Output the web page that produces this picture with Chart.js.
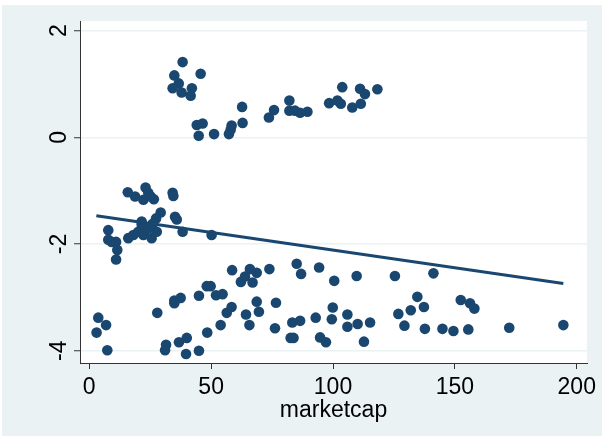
<!DOCTYPE html>
<html>
<head>
<meta charset="utf-8">
<script src="https://cdn.jsdelivr.net/npm/chart.js@4"></script>
<style>
  body { margin: 0; background: #fff; }
  canvas { display: block; }
</style>
</head>
<body>
<canvas id="scatterChart" width="614" height="436"></canvas>
<script>
// values
const marketcap = [
  38.3, 34.9, 45.7, 36.7, 34.2, 37.9, 42.1, 41.6,
  62.7, 62.9, 44.1, 46.5, 44.9, 51.2, 57.3, 58.0, 58.4,
  73.7, 75.8, 82.1, 82.1, 84.4, 86.5, 89.5,
  98.4, 101.8, 103.2, 103.8, 107.9, 111.4, 111.1, 113.1, 118.2,
  15.8, 18.8, 23.1, 24.2, 22.2, 26.5, 25.2, 34.2, 34.5,
  29.3, 27.4, 35.2, 35.9, 21.5, 38.3, 50.2,
  7.8, 7.8, 9.2, 11.0, 11.5, 11.0,
  16.0, 18.1, 20.1, 22.9, 22.2, 25.6, 27.7, 24.2, 21.5, 26.0,
  3.7, 3.0, 6.9, 7.4, 27.9, 31.1, 31.5, 36.8, 40.0, 39.7, 45.0, 48.4, 53.9,
  34.9, 34.9, 37.5, 45.0, 48.2, 49.8, 52.0, 54.7, 56.4, 58.4,
  58.6, 62.2, 63.9, 65.9, 67.0, 68.7, 64.3, 65.7, 68.7, 69.6, 73.9, 76.6, 76.2,
  85.1, 86.9, 94.3, 100.5, 109.7, 125.4, 141.2,
  83.3, 86.5, 82.6, 83.8, 92.9, 94.7, 97.1, 99.9, 99.5, 105.9, 105.9, 110.1, 115.2, 112.7,
  126.8, 129.3, 131.9, 134.6, 137.3, 137.7, 144.9, 149.4, 152.4, 156.2, 158.0, 155.5, 172.3, 194.5
];
const yValues = [
  1.41, 1.16, 1.19, 1.01, 0.92, 0.84, 0.92, 0.78,
  0.57, 0.27, 0.23, 0.26, 0.03, 0.06, 0.06, 0.14, 0.22,
  0.37, 0.51, 0.69, 0.50, 0.50, 0.46, 0.48,
  0.64, 0.69, 0.63, 0.94, 0.56, 0.63, 0.91, 0.81, 0.90,
  -1.03, -1.11, -0.94, -1.04, -1.17, -1.16, -1.11, -1.04, -1.10,
  -1.41, -1.52, -1.49, -1.54, -1.58, -1.77, -1.83,
  -1.74, -1.92, -1.96, -1.96, -2.11, -2.29,
  -1.89, -1.83, -1.77, -1.74, -1.83, -1.89, -1.77, -1.71, -1.64, -1.62,
  -3.38, -3.66, -3.52, -3.99, -3.29, -3.99, -3.89, -3.84, -3.76, -4.06, -4.00, -3.66, -3.52,
  -3.11, -3.06, -3.01, -2.97, -2.79, -2.79, -2.96, -2.94, -3.29, -3.18,
  -2.49, -2.71, -2.61, -2.47, -2.72, -2.54, -3.32, -3.52, -3.08, -3.27, -2.47, -3.10, -3.58,
  -2.37, -2.56, -2.44, -2.69, -2.60, -2.60, -2.55,
  -3.47, -3.44, -3.76, -3.76, -3.38, -3.75, -3.84, -3.19, -3.41, -3.32, -3.55, -3.50, -3.47, -3.83,
  -3.31, -3.53, -3.24, -2.99, -3.18, -3.59, -3.59, -3.63, -3.05, -3.11, -3.21, -3.60, -3.57, -3.52
];
// fitted line end points
const fitX = [2.9, 194.5];
const fitY = [-1.47, -2.74];

const xTicks = [0, 50, 100, 150, 200];
const yTicks = [-4, -2, 0, 2];

const navy = '#1a476f';
const bgColor = '#eaf2f3';
const axisColor = '#333333';

const points = marketcap.map((x, i) => ({ x: x, y: yValues[i] }));
const fitPoints = fitX.map((x, i) => ({ x: x, y: fitY[i] }));

const backgroundPlugin = {
  id: 'stataBackground',
  beforeDraw(chart) {
    const c = chart.ctx;
    const a = chart.chartArea;
    c.save();
    c.fillStyle = '#ffffff';
    c.fillRect(0, 0, chart.width, chart.height);
    c.fillStyle = bgColor;
    c.fillRect(2, 5, 600, 431);
    c.fillStyle = '#ffffff';
    c.fillRect(a.left, a.top, a.right - a.left, a.bottom - a.top);
    c.restore();
  }
};

const ctx = document.getElementById('scatterChart').getContext('2d');
const chart = new Chart(ctx, {
  type: 'scatter',
  data: {
    datasets: [{
      label: 'values',
      data: points,
      backgroundColor: navy,
      borderColor: navy,
      borderWidth: 0,
      pointRadius: 5.3,
      order: 2
    }, {
      label: 'Fitted values',
      data: fitPoints,
      showLine: true,
      borderColor: navy,
      borderWidth: 3,
      pointRadius: 0,
      fill: false,
      order: 1
    }]
  },
  options: {
    responsive: false,
    animation: false,
    layout: { padding: { left: 0, top: 21, right: 27, bottom: 0 } },
    plugins: { legend: { display: false }, tooltip: { enabled: false } },
    scales: {
      x: {
        type: 'linear',
        min: -3.8,
        max: 204.2,
        afterBuildTicks: s => { s.ticks = xTicks.map(v => ({ value: v })); },
        afterFit: s => { s.height = 73; },
        grid: { drawOnChartArea: false, tickColor: axisColor, tickLength: 6, tickWidth: 1 },
        border: { display: true, color: axisColor, width: 1 },
        ticks: {
          color: '#000',
          padding: 5,
          maxRotation: 0,
          font: { family: '"Liberation Sans", Arial, sans-serif', size: 23 }
        },
        title: {
          display: true,
          text: 'marketcap',
          color: '#000',
          padding: { top: 0, bottom: 12 },
          font: { family: '"Liberation Sans", Arial, sans-serif', size: 23 }
        }
      },
      y: {
        type: 'linear',
        min: -4.23,
        max: 2.18,
        afterBuildTicks: s => { s.ticks = yTicks.map(v => ({ value: v })); },
        afterFit: s => { s.width = 80; },
        grid: { color: bgColor, lineWidth: 1.5, tickColor: axisColor, tickLength: 6, tickWidth: 1 },
        border: { display: true, color: axisColor, width: 1 },
        ticks: {
          color: '#000',
          padding: 4,
          minRotation: 90,
          maxRotation: 90,
          crossAlign: 'center',
          font: { family: '"Liberation Sans", Arial, sans-serif', size: 23 }
        }
      }
    }
  },
  plugins: [backgroundPlugin]
});
</script>
</body>
</html>
